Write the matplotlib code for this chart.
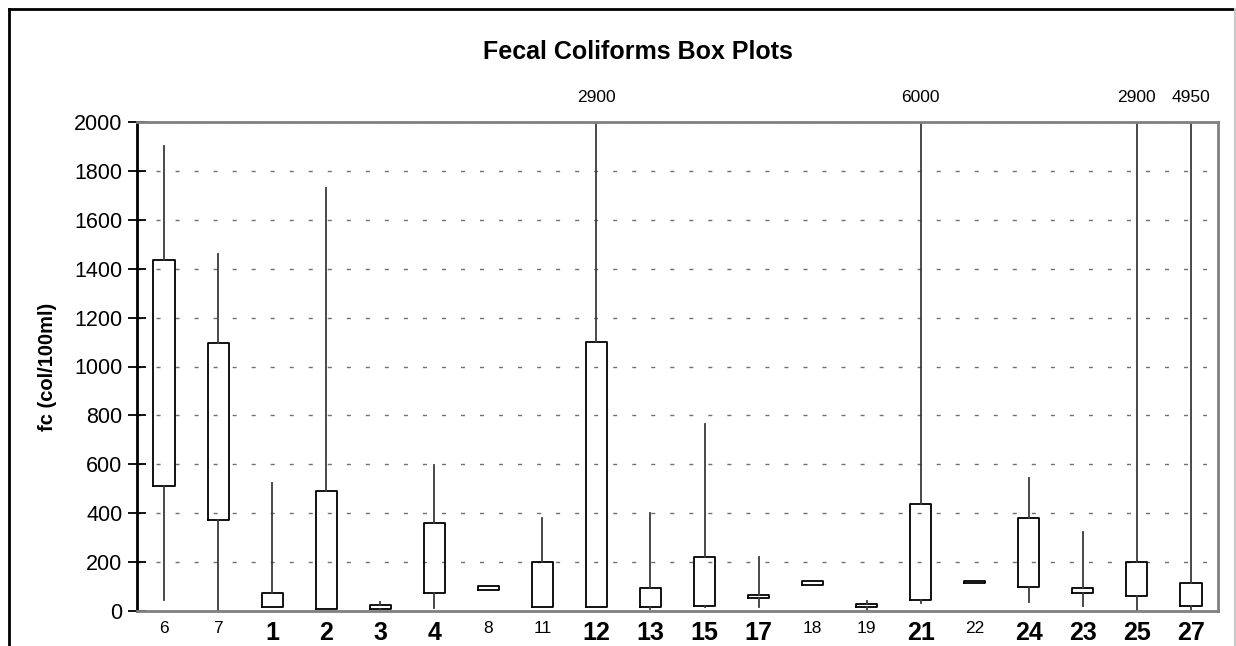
import matplotlib
matplotlib.use("Agg")
import matplotlib.pyplot as plt
from matplotlib.lines import Line2D
import matplotlib.transforms as mtransforms

plt.rcParams['font.family'] = ['Liberation Sans', 'DejaVu Sans']

# sites in plotting order, bold = main stations
sites = ['6', '7', '1', '2', '3', '4', '8', '11', '12', '13', '15', '17',
         '18', '19', '21', '22', '24', '23', '25', '27']
bold = [False, False, True, True, True, True, False, False, True, True, True, True,
        False, False, True, False, True, True, True, True]
mins = [45, 5, 15, 7, 3, 14, 86, 15, 15, 7, 18, 15, 106, 0, 31, 115, 35, 22, 0, 0]
q1 = [510, 372, 15, 7, 7, 72, 86, 15, 15, 15, 22, 52, 106, 15, 45, 115, 100, 72, 63, 22]
q3 = [1435, 1095, 72, 492, 23, 359, 102, 202, 1100, 93, 222, 65, 123, 29, 436, 124,
      379, 95, 202, 116]
maxs = [1900, 1460, 522, 1730, 37, 597, 102, 379, 2900, 400, 765, 222, 123, 42, 6000,
        124, 544, 322, 2900, 4950]

fig = plt.figure(figsize=(12.36, 6.46), dpi=100)
ax = fig.add_axes([137 / 1236, 35 / 646, 1081 / 1236, 489 / 646])

stats = []
for i in range(len(sites)):
    stats.append(dict(label=sites[i], whislo=mins[i], q1=q1[i], med=q1[i],
                      q3=q3[i], whishi=maxs[i]))

pos = list(range(len(sites)))
ax.bxp(stats, positions=pos, widths=0.39, showcaps=False, showfliers=False,
       boxprops=dict(color='black', linewidth=1.3),
       whiskerprops=dict(color='#3a3a3a', linewidth=1.3),
       medianprops=dict(linewidth=0))

ax.set_xlim(-0.5, len(sites) - 0.5)
ax.set_ylim(0, 2000)
ax.set_yticks(range(0, 2001, 200))
ax.yaxis.grid(True, color='#707070', linestyle=(0, (2.9, 10.8)), linewidth=1.0)
ax.set_axisbelow(True)

ax.tick_params(axis='y', direction='inout', length=13, width=1.3, labelsize=15.5, pad=4)
ax.tick_params(axis='x', length=0, pad=7)
ax.set_xticks(pos)
ax.set_xticklabels(sites, va='top')
for lab, b in zip(ax.get_xticklabels(), bold):
    if b:
        lab.set_fontsize(18)
        lab.set_fontweight('bold')
    else:
        lab.set_fontsize(12.5)

for side in ['top', 'right', 'bottom']:
    ax.spines[side].set_color('#808080')
    ax.spines[side].set_linewidth(2)
ax.spines['left'].set_color('black')
ax.spines['left'].set_linewidth(2)

# labels for whiskers that leave the chart
trans = mtransforms.blended_transform_factory(ax.transData, ax.transAxes)
for i in range(len(sites)):
    if maxs[i] > 2000:
        ax.text(pos[i], 1.051, str(maxs[i]), transform=trans, ha='center', va='center',
                fontsize=12.5)

ax.set_ylabel('fc (col/100ml)', fontsize=14.5, fontweight='bold', labelpad=12)
fig.text(638 / 1236, 1 - 52 / 646, 'Fecal Coliforms Box Plots', ha='center',
         va='center', fontsize=18, fontweight='bold')

# outer frame
fig.add_artist(Line2D([8.5 / 1236, 8.5 / 1236], [0, 1 - 9 / 646], color='black', lw=2,
                      transform=fig.transFigure))
fig.add_artist(Line2D([8.5 / 1236, 1235 / 1236], [1 - 9 / 646, 1 - 9 / 646],
                      color='black', lw=2, transform=fig.transFigure))
fig.add_artist(Line2D([1234.5 / 1236, 1234.5 / 1236], [0, 1 - 9 / 646], color='#c8c8c8',
                      lw=1.5, transform=fig.transFigure))

fig.savefig('out.png', dpi=100)
